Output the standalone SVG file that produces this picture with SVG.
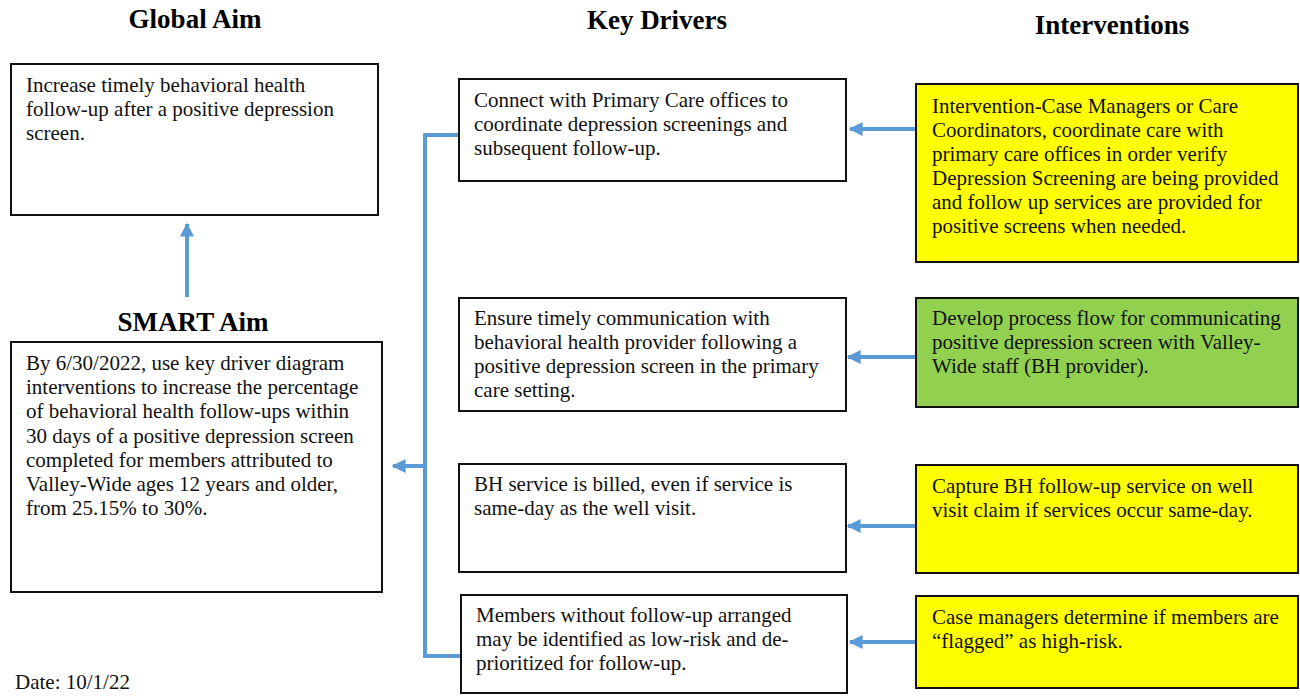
<svg xmlns="http://www.w3.org/2000/svg" width="1300" height="697" viewBox="0 0 1300 697">
<style>
.t{font-family:"Liberation Serif","Times New Roman",serif;font-size:21px;fill:#111}
.h{font-family:"Liberation Serif","Times New Roman",serif;font-weight:bold;font-size:27px;fill:#000;text-anchor:middle}
.box{fill:#fff;stroke:#111;stroke-width:2}
.y{fill:#ffff00;stroke:#111;stroke-width:2}
.g{fill:#92d050;stroke:#111;stroke-width:2}
.c{fill:none;stroke:#5b9bd5;stroke-width:4}
</style>
<defs>
<marker id="ah" viewBox="0 0 10 10" refX="9" refY="5" markerWidth="3.5" markerHeight="3.5" orient="auto" markerUnits="strokeWidth">
<path d="M0,0 L10,5 L0,10 z" fill="#5b9bd5"/>
</marker>
</defs>
<rect width="1300" height="697" fill="#fff"/>
<text class="h" x="195" y="28">Global Aim</text>
<text class="h" x="657" y="29">Key Drivers</text>
<text class="h" x="1112" y="34">Interventions</text>
<text class="h" x="193" y="331">SMART Aim</text>

<g id="connectors">
<path class="c" d="M187,297 V224" marker-end="url(#ah)"/>
<path class="c" d="M459,135 H425 V656 H461"/>
<path class="c" d="M425,466 H393" marker-end="url(#ah)"/>
<path class="c" d="M916,129 H850" marker-end="url(#ah)"/>
<path class="c" d="M916,357 H848" marker-end="url(#ah)"/>
<path class="c" d="M916,526 H848" marker-end="url(#ah)"/>
<path class="c" d="M916,642 H850" marker-end="url(#ah)"/>
</g>

<g id="global-aim">
<rect class="box" x="11" y="64" width="367" height="151"/>
<text class="t" x="26" y="92">Increase timely behavioral health</text>
<text class="t" x="26" y="116">follow-up after a positive depression</text>
<text class="t" x="26" y="140">screen.</text>
</g>

<g id="smart-aim">
<rect class="box" x="11" y="342" width="371" height="250"/>
<text class="t" x="26" y="370">By 6/30/2022, use key driver diagram</text>
<text class="t" x="26" y="394">interventions to increase the percentage</text>
<text class="t" x="26" y="418">of behavioral health follow-ups within</text>
<text class="t" x="26" y="443">30 days of a positive depression screen</text>
<text class="t" x="26" y="467">completed for members attributed to</text>
<text class="t" x="26" y="491">Valley-Wide ages 12 years and older,</text>
<text class="t" x="26" y="515">from 25.15% to 30%.</text>
</g>

<g id="date">
<text class="t" x="15" y="689">Date: 10/1/22</text>
</g>

<g id="driver-1">
<rect class="box" x="459" y="79" width="387" height="102"/>
<text class="t" x="474" y="107">Connect with Primary Care offices to</text>
<text class="t" x="474" y="131">coordinate depression screenings and</text>
<text class="t" x="474" y="155">subsequent follow-up.</text>
</g>

<g id="driver-2">
<rect class="box" x="459" y="298" width="387" height="113"/>
<text class="t" x="474" y="325">Ensure timely communication with</text>
<text class="t" x="474" y="349">behavioral health provider following a</text>
<text class="t" x="474" y="373">positive depression screen in the primary</text>
<text class="t" x="474" y="397">care setting.</text>
</g>

<g id="driver-3">
<rect class="box" x="459" y="464" width="387" height="108"/>
<text class="t" x="474" y="491">BH service is billed, even if service is</text>
<text class="t" x="474" y="515">same-day as the well visit.</text>
</g>

<g id="driver-4">
<rect class="box" x="461" y="595" width="386" height="98"/>
<text class="t" x="476" y="622">Members without follow-up arranged</text>
<text class="t" x="476" y="646">may be identified as low-risk and de-</text>
<text class="t" x="476" y="670">prioritized for follow-up.</text>
</g>

<g id="intervention-1">
<rect class="y" x="916" y="84" width="382" height="178"/>
<text class="t" x="932" y="113">Intervention-Case Managers or Care</text>
<text class="t" x="932" y="137">Coordinators, coordinate care with</text>
<text class="t" x="932" y="161">primary care offices in order verify</text>
<text class="t" x="932" y="185">Depression Screening are being provided</text>
<text class="t" x="932" y="209">and follow up services are provided for</text>
<text class="t" x="932" y="233">positive screens when needed.</text>
</g>

<g id="intervention-2">
<rect class="g" x="916" y="298" width="382" height="109"/>
<text class="t" x="932" y="325">Develop process flow for communicating</text>
<text class="t" x="932" y="349">positive depression screen with Valley-</text>
<text class="t" x="932" y="373">Wide staff (BH provider).</text>
</g>

<g id="intervention-3">
<rect class="y" x="916" y="465" width="382" height="108"/>
<text class="t" x="932" y="493">Capture BH follow-up service on well</text>
<text class="t" x="932" y="517">visit claim if services occur same-day.</text>
</g>

<g id="intervention-4">
<rect class="y" x="916" y="596" width="382" height="92"/>
<text class="t" x="932" y="624">Case managers determine if members are</text>
<text class="t" x="932" y="648">“flagged” as high-risk.</text>
</g>
</svg>
